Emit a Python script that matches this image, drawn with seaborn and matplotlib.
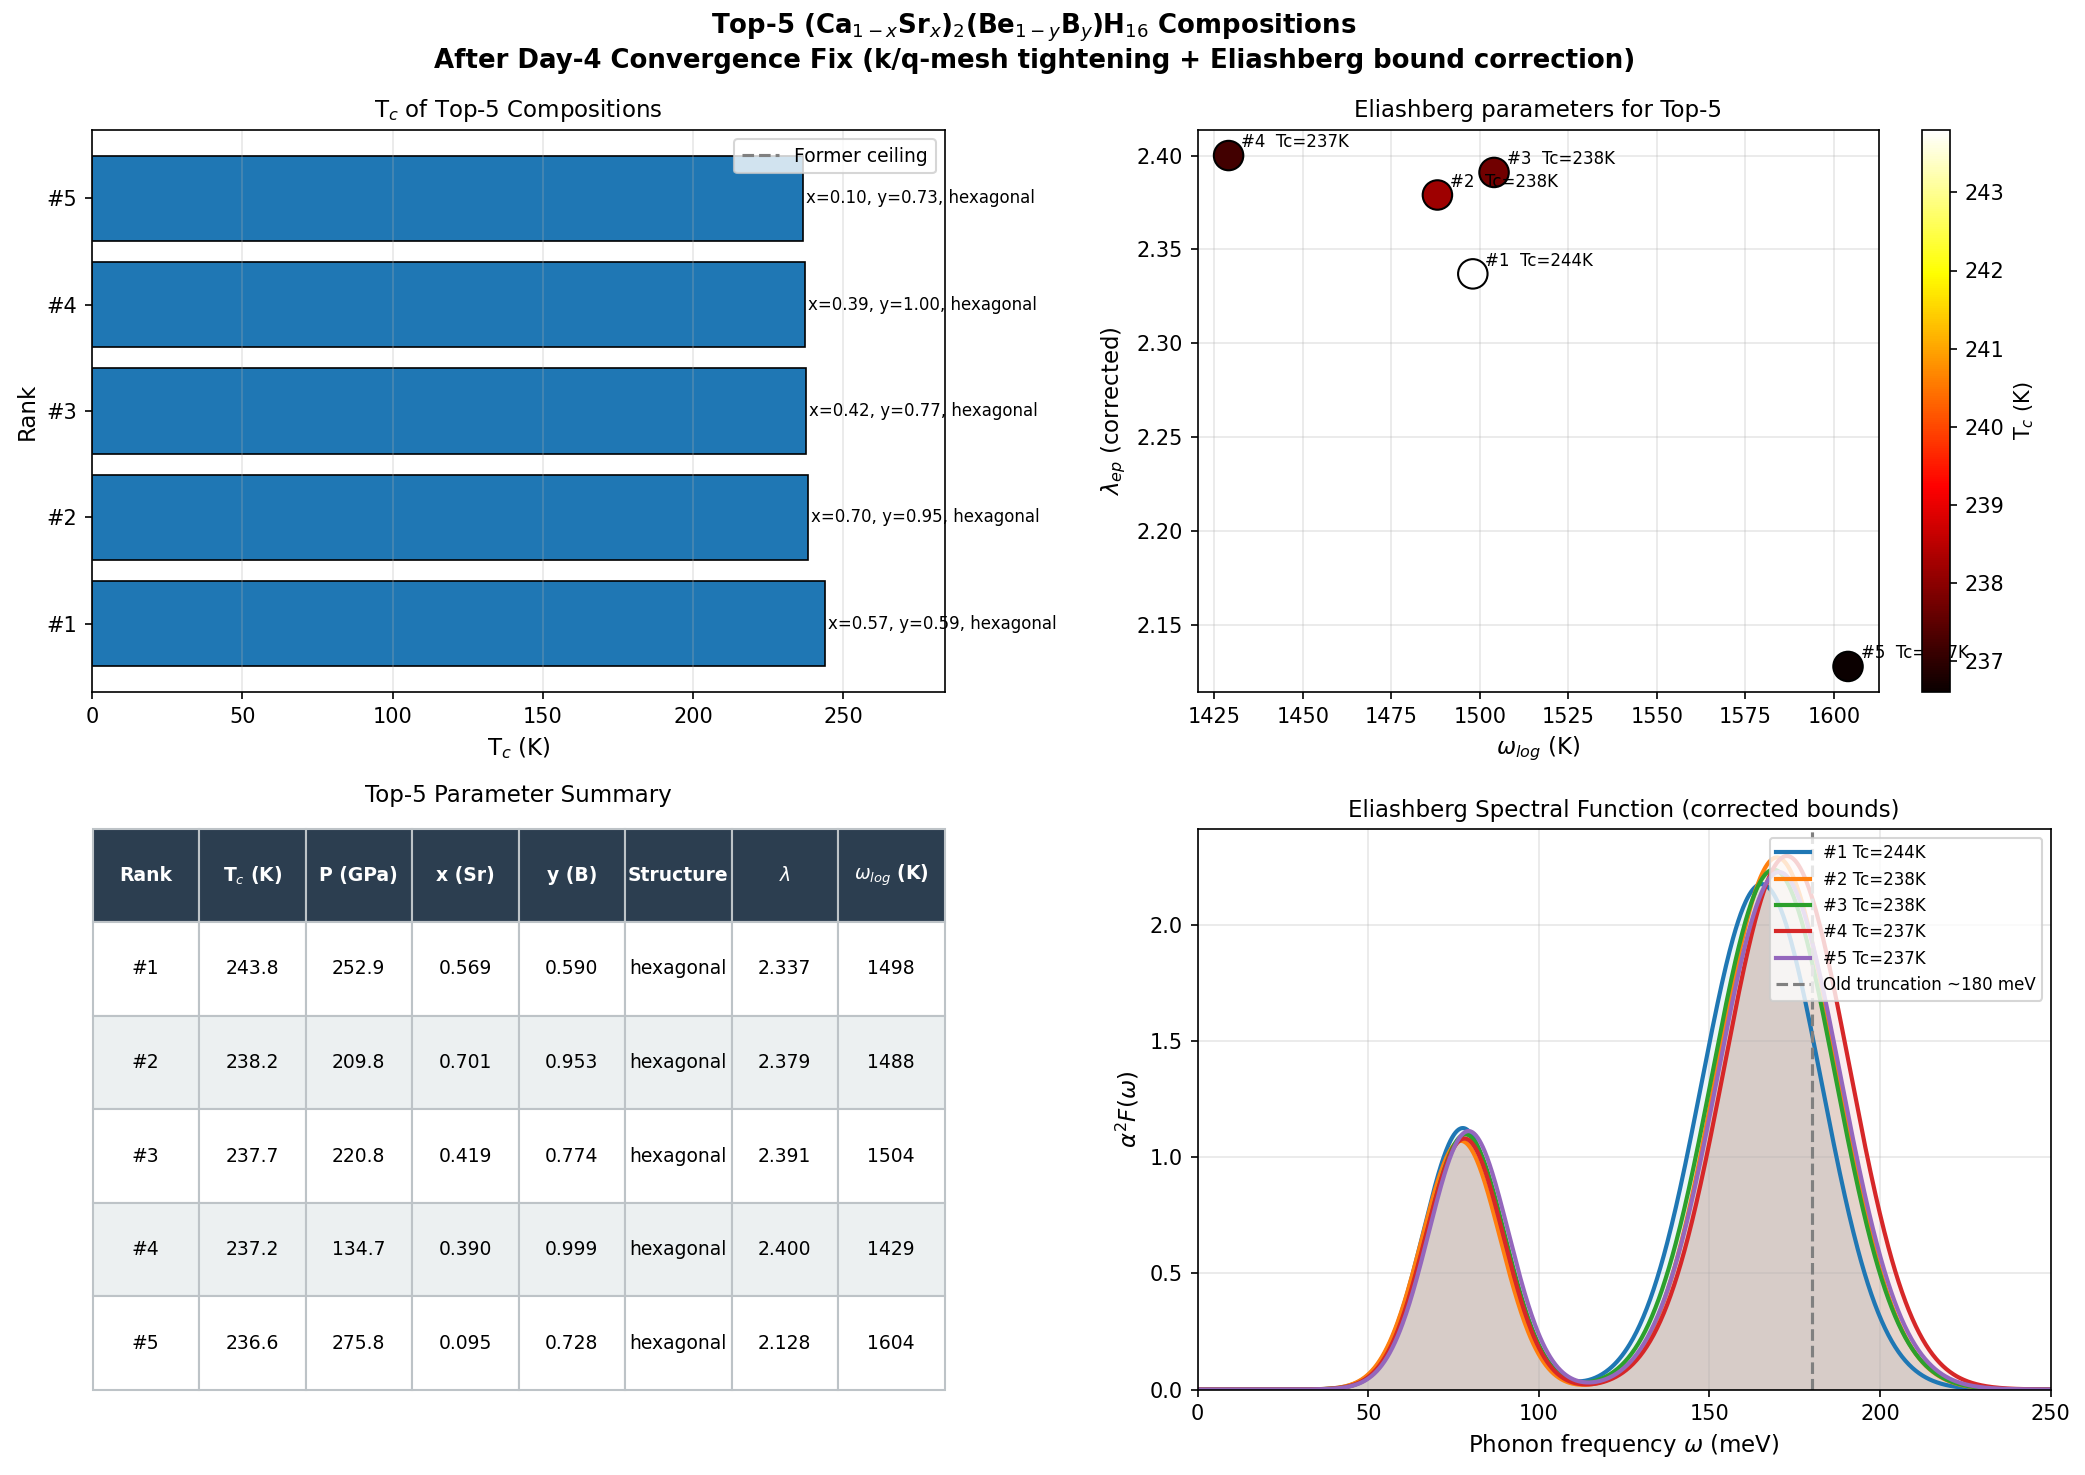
import numpy as np
import pandas as pd
import matplotlib
matplotlib.use("Agg")
import matplotlib.pyplot as plt
from matplotlib.lines import Line2D
from matplotlib.colors import Normalize
from matplotlib.cm import ScalarMappable
import seaborn as sns

plt.rcParams["axes.titlesize"] = 11
plt.rcParams["axes.labelsize"] = 11

# top-5 compositions
ranks = ["#1", "#2", "#3", "#4", "#5"]
tc = [243.8, 238.2, 237.7, 237.2, 236.6]
pressure = [252.9, 209.8, 220.8, 134.7, 275.8]
x_sr = [0.569, 0.701, 0.419, 0.390, 0.095]
y_b = [0.590, 0.953, 0.774, 0.999, 0.728]
structure = ["hexagonal", "hexagonal", "hexagonal", "hexagonal", "hexagonal"]
lam = [2.337, 2.379, 2.391, 2.400, 2.128]
wlog = [1498, 1488, 1504, 1429, 1604]

# two-peak alpha^2F: centre (meV), height, width (meV)
low_centre = [77.7, 77.2, 78.5, 78.2, 79.4]
low_height = [1.125, 1.07, 1.098, 1.08, 1.112]
low_width = [11.5, 11.5, 11.5, 11.5, 11.7]
high_centre = [165.3, 169.8, 168.8, 172.7, 170.4]
high_height = [2.175, 2.29, 2.237, 2.296, 2.227]
high_width = [17.6, 17.5, 18.0, 18.3, 18.0]
old_cutoff = 180

W, H = 2085, 1475
fig = plt.figure(figsize=(W / 150, H / 150), dpi=150)


def box(l, t, r, b):
    return [l / W, 1 - b / H, (r - l) / W, (b - t) / H]


fig.suptitle("Top-5 (Ca$_{1-x}$Sr$_x$)$_2$(Be$_{1-y}$B$_y$)H$_{16}$ Compositions\n"
             "After Day-4 Convergence Fix (k/q-mesh tightening + Eliashberg bound correction)",
             fontsize=12.5, fontweight="bold", x=0.496, y=0.992, va="top")

# --- Tc bars
ax1 = fig.add_axes(box(92, 130, 945, 692))
order = ranks[::-1]
sns.barplot(x=tc, y=ranks, order=order, orient="h", color="C0", saturation=1,
            edgecolor="black", linewidth=0.8, errorbar=None, ax=ax1)
for r, t, xs, yb, s in zip(ranks, tc, x_sr, y_b, structure):
    ax1.text(t + 1, order.index(r), f"x={xs:.2f}, y={yb:.2f}, {s}", va="center", fontsize=8)
ax1.set_ylim(4.64, -0.64)
ax1.set_xlim(0, 283.8)
ax1.set_xlabel("T$_c$ (K)")
ax1.set_ylabel("Rank")
ax1.set_title("T$_c$ of Top-5 Compositions")
ax1.grid(axis="x", alpha=0.3)
ax1.legend(handles=[Line2D([], [], color="gray", ls="--", lw=1.5, label="Former ceiling")],
           loc="upper right", fontsize=9)

# --- lambda vs omega_log
ax2 = fig.add_axes(box(1197.6, 130, 1879, 692))
cax = fig.add_axes(box(1921.7, 130, 1950, 692))
norm = Normalize(min(tc), max(tc))
sns.scatterplot(x=wlog, y=lam, hue=tc, palette="hot", hue_norm=norm, s=200,
                edgecolor="black", linewidth=1, legend=False, zorder=3, ax=ax2)
for r, w, l, t in zip(ranks, wlog, lam, tc):
    ax2.annotate(f"{r}  Tc={t:.0f}K", (w, l), xytext=(6, 4), textcoords="offset points", fontsize=8)
ax2.set_xlabel("$\\omega_{log}$ (K)")
ax2.set_ylabel("$\\lambda_{ep}$ (corrected)")
ax2.set_title("Eliashberg parameters for Top-5")
ax2.grid(alpha=0.3)
cb = fig.colorbar(ScalarMappable(norm=norm, cmap="hot"), cax=cax)
cb.set_label("T$_c$ (K)", fontsize=10)

# --- summary table
ax3 = fig.add_axes(box(92.5, 828.6, 944.5, 1390))
ax3.axis("off")
cols = ["Rank", "T$_c$ (K)", "P (GPa)", "x (Sr)", "y (B)", "Structure", "$\\lambda$", "$\\omega_{log}$ (K)"]
rows = [[r, f"{t:.1f}", f"{p:.1f}", f"{xs:.3f}", f"{yb:.3f}", s, f"{l:.3f}", f"{w}"]
        for r, t, p, xs, yb, s, l, w in zip(ranks, tc, pressure, x_sr, y_b, structure, lam, wlog)]
tab = ax3.table(cellText=rows, colLabels=cols, cellLoc="center", bbox=[0, 0, 1, 1])
tab.auto_set_font_size(False)
tab.set_fontsize(9)
for (i, j), cell in tab.get_celld().items():
    cell.set_edgecolor("#bdc3c7")
    if i == 0:
        cell.set_facecolor("#2c3e50")
        cell.get_text().set_color("white")
        cell.get_text().set_fontweight("bold")
    elif i % 2 == 0:
        cell.set_facecolor("#ecf0f1")
ax3.set_title("Top-5 Parameter Summary", pad=13)

# --- spectral function
ax4 = fig.add_axes(box(1197.7, 829.3, 2050.6, 1389.5))
omega = np.linspace(0, 250, 1000)
for k, r in enumerate(ranks):
    a2f = (low_height[k] * np.exp(-(omega - low_centre[k]) ** 2 / (2 * low_width[k] ** 2))
           + high_height[k] * np.exp(-(omega - high_centre[k]) ** 2 / (2 * high_width[k] ** 2)))
    ax4.fill_between(omega, a2f, color=f"C{k}", alpha=0.08, lw=0)
    sns.lineplot(x=omega, y=a2f, color=f"C{k}", lw=2, label=f"{r} Tc={tc[k]:.0f}K", ax=ax4)
ax4.axvline(old_cutoff, color="gray", ls="--", lw=1.5, label=f"Old truncation ~{old_cutoff} meV")
ax4.set_xlim(0, 250)
ax4.set_ylim(bottom=0)
ax4.set_xlabel("Phonon frequency $\\omega$ (meV)")
ax4.set_ylabel("$\\alpha^2F(\\omega)$")
ax4.set_title("Eliashberg Spectral Function (corrected bounds)")
ax4.grid(alpha=0.3)
ax4.legend(loc="upper right", fontsize=8)

fig.savefig("out.png", dpi=150)
